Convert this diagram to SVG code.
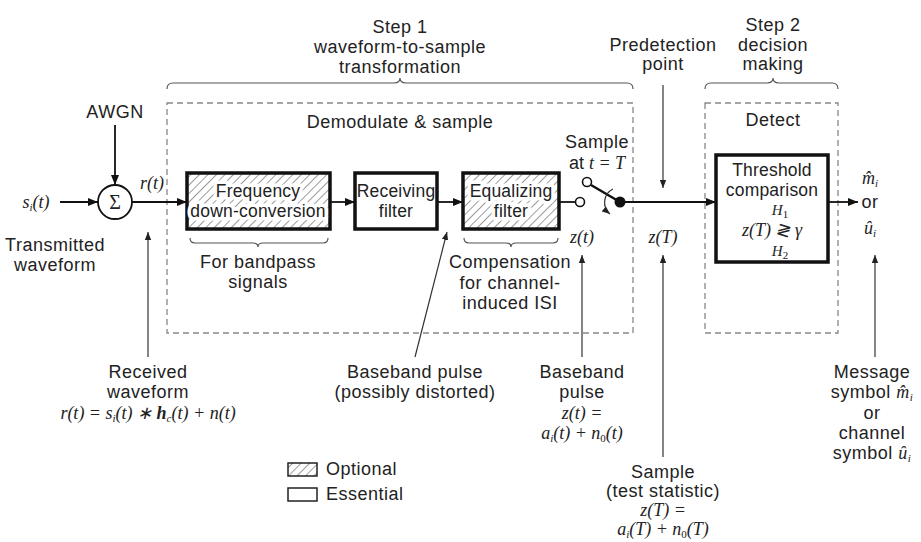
<svg xmlns="http://www.w3.org/2000/svg" width="921" height="542" viewBox="0 0 921 542">
<style>
.t{font-family:"Liberation Sans",Arial,sans-serif;font-size:18px;fill:#222;text-anchor:middle;letter-spacing:0.5px}
.b{font-size:17.5px;letter-spacing:0.2px}
.m{font-family:"Liberation Serif","Times New Roman",serif;font-style:italic;font-size:18px;fill:#222;text-anchor:middle}
.s{font-size:11px}
.h{font-size:15px}
.halo{paint-order:stroke;stroke:#fff;stroke-width:7px;stroke-linejoin:round}
.sig{stroke:#111;stroke-width:1.8;fill:none}
.ann{stroke:#333;stroke-width:1.2;fill:none}
.dash{stroke:#888;stroke-width:1.3;fill:none;stroke-dasharray:6 4}
.brace{stroke:#555;stroke-width:1.2;fill:none}
.box{stroke:#111;stroke-width:3.5}
</style>
<defs>
<pattern id="hatch" width="6" height="6" patternUnits="userSpaceOnUse" patternTransform="rotate(45)">
<rect width="6" height="6" fill="#fff"/>
<line x1="0" y1="0" x2="0" y2="6" stroke="#666" stroke-width="1.3"/>
</pattern>
<marker id="ah" viewBox="0 0 10 8" refX="10" refY="4" markerWidth="10" markerHeight="8" markerUnits="userSpaceOnUse" orient="auto">
<path d="M0,0 L10,4 L0,8 z" fill="#111"/>
</marker>
<marker id="ahs" viewBox="0 0 10 8" refX="10" refY="4" markerWidth="8" markerHeight="7" markerUnits="userSpaceOnUse" orient="auto">
<path d="M0,0 L10,4 L0,8 z" fill="#222"/>
</marker>
</defs>
<rect width="921" height="542" fill="#fff"/>

<g id="headings">
<text class="t" x="400" y="33">Step 1</text>
<text class="t" x="400" y="53">waveform-to-sample</text>
<text class="t" x="400" y="73">transformation</text>
<path class="brace" d="M167,89 Q167,83 173,83 L394,83 Q400,83 400,78 Q400,83 406,83 L627,83 Q633,83 633,89"/>
<text class="t" x="773" y="31">Step 2</text>
<text class="t" x="773" y="51">decision</text>
<text class="t" x="773" y="70">making</text>
<path class="brace" d="M705,89 Q705,83 711,83 L767,83 Q773,83 773,78 Q773,83 779,83 L832,83 Q838,83 838,89"/>
<text class="t" x="663" y="51">Predetection</text>
<text class="t" x="663" y="70">point</text>
</g>

<g id="demodulate">
<rect class="dash" x="167" y="103" width="466" height="230"/>
<text class="t" x="400" y="128">Demodulate &amp; sample</text>
</g>
<g id="detect">
<rect class="dash" x="705" y="103" width="133" height="230"/>
<text class="t" x="773" y="126">Detect</text>
</g>

<g id="awgn"><text class="t" x="115" y="118">AWGN</text></g>
<g id="sum">
<circle cx="115" cy="202" r="17" fill="#fff" stroke="#111" stroke-width="1.8"/>
<text class="m" x="115" y="209" style="font-style:normal;font-size:20px">Σ</text>
</g>
<g id="input">
<text class="m" x="36" y="208">s<tspan class="s" dy="3">i</tspan><tspan dy="-3">(t)</tspan></text>
<text class="t" x="55" y="251">Transmitted</text>
<text class="t" x="55" y="271">waveform</text>
</g>
<g id="rt"><text class="m" x="152" y="189">r(t)</text></g>

<g id="freq">
<rect class="box" x="187" y="173" width="143" height="56" fill="url(#hatch)"/>
<text class="t b halo" x="258" y="197">Frequency</text>
<text class="t b halo" x="258" y="217">down-conversion</text>
</g>
<g id="recv">
<rect class="box" x="355" y="173" width="82" height="56" fill="#fff"/>
<text class="t b" x="396" y="197">Receiving</text>
<text class="t b" x="396" y="217">filter</text>
</g>
<g id="equal">
<rect class="box" x="463" y="173" width="96" height="56" fill="url(#hatch)"/>
<text class="t b halo" x="511" y="197">Equalizing</text>
<text class="t b halo" x="511" y="217">filter</text>
</g>
<g id="switch">
<circle cx="580" cy="202" r="4.5" fill="#fff" stroke="#111" stroke-width="1.6"/>
<circle cx="587" cy="182" r="4.5" fill="#fff" stroke="#111" stroke-width="1.6"/>
<line x1="591" y1="185" x2="620" y2="202" stroke="#111" stroke-width="2.5"/>
<circle cx="620" cy="202" r="5.5" fill="#111"/>
<path class="ann" d="M613,189 A15,15 0 0 0 610,214" marker-end="url(#ahs)"/>
<text class="t" x="597" y="148">Sample</text>
<text class="m" x="597" y="169"><tspan style="font-family:'Liberation Sans',Arial,sans-serif;font-style:normal">at </tspan>t = T</text>
</g>
<g id="threshold">
<rect class="box" x="716" y="155" width="112" height="107" fill="#fff"/>
<text class="t b" x="772" y="176">Threshold</text>
<text class="t b" x="772" y="196">comparison</text>
<text class="m h" x="780" y="215">H<tspan class="s" dy="3" style="font-style:normal">1</tspan></text>
<text class="m" x="772" y="236">z(T) ≷ γ</text>
<text class="m h" x="780" y="256">H<tspan class="s" dy="3" style="font-style:normal">2</tspan></text>
</g>
<g id="output">
<text class="m" x="870" y="184">m̂<tspan class="s" dy="3">i</tspan></text>
<text class="t" x="870" y="208">or</text>
<text class="m" x="870" y="234">û<tspan class="s" dy="3">i</tspan></text>
</g>

<g id="connectors">
<line class="sig" x1="115" y1="125" x2="115" y2="185" marker-end="url(#ah)"/>
<line class="sig" x1="60" y1="202" x2="98" y2="202" marker-end="url(#ah)"/>
<line class="sig" x1="132" y1="202" x2="187" y2="202" marker-end="url(#ah)"/>
<line class="sig" x1="330" y1="202" x2="355" y2="202" marker-end="url(#ah)"/>
<line class="sig" x1="437" y1="202" x2="463" y2="202" marker-end="url(#ah)"/>
<line class="sig" x1="559" y1="202" x2="575.5" y2="202"/>
<line class="sig" x1="620" y1="202" x2="716" y2="202" marker-end="url(#ah)"/>
<line class="sig" x1="828" y1="202" x2="858" y2="202" marker-end="url(#ah)"/>
<line class="ann" x1="663" y1="85" x2="663" y2="188" marker-end="url(#ahs)"/>
<line class="ann" x1="148" y1="357" x2="148" y2="232" marker-end="url(#ahs)"/>
<line class="ann" x1="415" y1="357" x2="447" y2="232" marker-end="url(#ahs)"/>
<line class="ann" x1="582" y1="357" x2="582" y2="255" marker-end="url(#ahs)"/>
<line class="ann" x1="663" y1="457" x2="663" y2="255" marker-end="url(#ahs)"/>
<line class="ann" x1="875" y1="357" x2="875" y2="255" marker-end="url(#ahs)"/>
</g>

<g id="labels">
<text class="m" x="582" y="243">z(t)</text>
<text class="m" x="663" y="243">z(T)</text>
<path class="brace" d="M190,238 Q190,243 195,243 L253,243 Q258,243 258,247 Q258,243 263,243 L323,243 Q328,243 328,238"/>
<text class="t" x="258" y="268">For bandpass</text>
<text class="t" x="258" y="288">signals</text>
<path class="brace" d="M464,238 Q464,243 469,243 L506,243 Q511,243 511,247 Q511,243 516,243 L553,243 Q558,243 558,238"/>
<text class="t" x="510" y="268">Compensation</text>
<text class="t" x="510" y="289">for channel-</text>
<text class="t" x="510" y="309">induced ISI</text>
<text class="t" x="148" y="378">Received</text>
<text class="t" x="148" y="398">waveform</text>
<text class="m" x="148" y="419">r(t) = s<tspan class="s" dy="3">i</tspan><tspan dy="-3">(t) ∗ </tspan><tspan style="font-weight:bold">h</tspan><tspan class="s" dy="3">c</tspan><tspan dy="-3">(t)  + n(t)</tspan></text>
<text class="t" x="415" y="378">Baseband pulse</text>
<text class="t" x="415" y="398">(possibly distorted)</text>
<text class="t" x="582" y="378">Baseband</text>
<text class="t" x="582" y="398">pulse</text>
<text class="m" x="582" y="419">z(t) =</text>
<text class="m" x="582" y="439">a<tspan class="s" dy="3">i</tspan><tspan dy="-3">(t) + n</tspan><tspan class="s" dy="3" style="font-style:normal">0</tspan><tspan dy="-3">(t)</tspan></text>
<text class="t" x="872" y="378">Message</text>
<text class="t" x="872" y="398">symbol <tspan style="font-family:'Liberation Serif',serif;font-style:italic">m̂</tspan><tspan class="s" dy="3" style="font-family:'Liberation Serif',serif;font-style:italic">i</tspan></text>
<text class="t" x="872" y="419">or</text>
<text class="t" x="872" y="439">channel</text>
<text class="t" x="872" y="459">symbol <tspan style="font-family:'Liberation Serif',serif;font-style:italic">û</tspan><tspan class="s" dy="3" style="font-family:'Liberation Serif',serif;font-style:italic">i</tspan></text>
<text class="t" x="663" y="478">Sample</text>
<text class="t" x="663" y="497">(test statistic)</text>
<text class="m" x="663" y="516">z(T) =</text>
<text class="m" x="663" y="535">a<tspan class="s" dy="3">i</tspan><tspan dy="-3">(T) + n</tspan><tspan class="s" dy="3" style="font-style:normal">0</tspan><tspan dy="-3">(T)</tspan></text>
</g>

<g id="legend">
<rect x="288" y="463" width="29" height="13" fill="url(#hatch)" stroke="#222" stroke-width="1.5"/>
<text class="t" x="326" y="475" style="text-anchor:start">Optional</text>
<rect x="288" y="488" width="29" height="13" fill="#fff" stroke="#222" stroke-width="1.5"/>
<text class="t" x="326" y="500" style="text-anchor:start">Essential</text>
</g>
</svg>
